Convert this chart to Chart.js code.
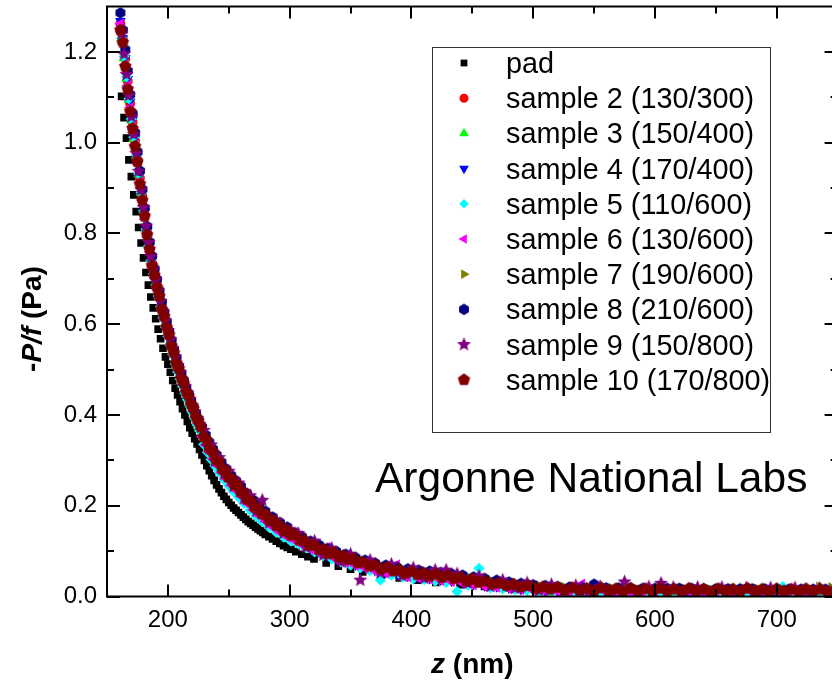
<!DOCTYPE html>
<html>
<head>
<meta charset="utf-8">
<title>-P/f vs z</title>
<script src="https://cdn.jsdelivr.net/npm/chart.js@4.4.1/dist/chart.umd.min.js"></script>
<style>
  html, body { margin: 0; padding: 0; background: #fff; overflow: hidden; }
  #wrap { width: 832px; height: 680px; overflow: hidden; }
</style>
</head>
<body>
<div id="wrap"><canvas id="plot" width="850" height="680"></canvas></div>
<script>
"use strict";

// ---- data (z in nm, -P/f in Pa) ----
const padZ = [162, 164, 166, 168, 170, 172, 174, 176, 178, 180, 182, 184, 186, 188, 190, 192, 194, 196, 198, 200,
  202, 204, 206, 208, 210, 212, 214, 216, 218, 220, 222, 224, 226, 228, 230, 232, 234, 236, 238, 240,
  242, 244, 246, 248, 250, 252, 254, 256, 258, 260, 262, 264, 266, 268, 270, 272, 274, 276, 278, 280,
  283, 286, 289, 292, 295, 298, 301, 305, 310, 315, 320, 330, 340, 350, 360, 375, 390, 405, 420, 440,
  460, 480, 500, 530, 560, 600, 650, 700, 745];
const padP = [1.102, 1.055, 1.010, 0.962, 0.925, 0.885, 0.848, 0.813, 0.779, 0.746, 0.714, 0.686, 0.660, 0.636, 0.612, 0.589, 0.568, 0.547, 0.528, 0.512,
  0.494, 0.476, 0.459, 0.444, 0.429, 0.414, 0.400, 0.386, 0.372, 0.360, 0.348, 0.336, 0.324, 0.312, 0.300, 0.288, 0.277, 0.266, 0.256, 0.246,
  0.237, 0.229, 0.221, 0.214, 0.207, 0.201, 0.195, 0.190, 0.185, 0.180, 0.175, 0.170, 0.165, 0.161, 0.157, 0.153, 0.149, 0.145, 0.141, 0.137,
  0.132, 0.127, 0.122, 0.117, 0.112, 0.108, 0.104, 0.099, 0.093, 0.088, 0.083, 0.074, 0.067, 0.060, 0.054, 0.047, 0.041, 0.036, 0.031, 0.026,
  0.022, 0.019, 0.016, 0.013, 0.011, 0.009, 0.007, 0.006, 0.005];

// z grids for samples 2-9 (even samples on zA, odd on zB)
const zA = [161, 163, 165, 167, 169, 171, 173, 175, 177, 179, 181, 183, 185, 187, 189, 191, 193, 195, 197, 199, 201, 203, 205, 207, 209, 211, 213, 215, 217, 219, 221, 223, 225,
  228, 231, 234, 237, 240, 244, 248, 252, 256, 260, 265, 270, 275, 280, 286, 292, 298,
  304, 310, 317, 324, 331, 338, 346, 354, 362, 370, 379, 388, 397, 406, 415, 424, 433, 442, 451, 460,
  470, 480, 490, 500, 510, 520, 530, 540, 550, 560, 570, 580, 590, 600, 610, 620, 630, 640, 650, 660, 670, 680, 690, 700, 710, 720, 730, 740];
const zB = [162, 164, 166, 168, 170, 172, 174, 176, 178, 180, 182, 184, 186, 188, 190, 192, 194, 196, 198, 200, 202, 204, 206, 208, 210, 212, 214, 216, 218, 220, 222, 224, 226,
  229.5, 232.5, 235.5, 238.5, 242, 246, 250, 254, 258, 262.5, 267.5, 272.5, 277.5, 283, 289, 295, 301,
  307, 313.5, 320.5, 327.5, 334.5, 342, 350, 358, 366, 374.5, 383.5, 392.5, 401.5, 410.5, 419.5, 428.5, 437.5, 446.5, 455.5, 465,
  475, 485, 495, 505, 515, 525, 535, 545, 555, 565, 575, 585, 595, 605, 615, 625, 635, 645, 655, 665, 675, 685, 695, 705, 715, 725, 735, 745];
// sample 10 was recorded on a finer grid
const z10 = [161, 163, 165, 167, 169, 171, 173, 175, 177, 179, 181, 183, 185, 187, 189, 191, 193, 195, 197, 199, 201, 203, 205, 207, 209, 211, 213, 215, 217, 219, 221, 223, 225,
  227, 229.5, 232, 234.5, 237, 239.5, 242, 244.5, 247, 249.5, 252, 254.5, 257, 259.5, 262, 265, 268, 271, 274, 277, 280, 283, 286, 289, 292, 295, 298, 301,
  304, 308, 312, 316, 320, 324, 328, 332, 336, 340, 344, 348, 352, 356, 360, 365, 370, 375, 380, 385, 390, 395, 400, 405, 410, 415, 420, 425, 430, 435, 440, 445, 450, 455, 460, 466,
  472, 478, 484, 490, 496, 502, 508, 514, 520, 526, 532, 538, 544, 550, 556, 562, 568, 574, 580, 586, 592, 598, 604, 610, 616, 622, 628, 634, 640, 646,
  652, 658, 664, 670, 676, 682, 688, 694, 700, 706, 712, 718, 724, 730, 736, 742];

const s2P = [1.262, 1.228, 1.185, 1.136, 1.086, 1.045, 1.004, 0.963, 0.922, 0.882, 0.841, 0.801, 0.767, 0.736, 0.709, 0.687, 0.662, 0.638, 0.617, 0.597, 0.576, 0.556, 0.536, 0.518, 0.501, 0.485, 0.469, 0.455, 0.441, 0.427, 0.413, 0.399, 0.386,
  0.368, 0.350, 0.334, 0.319, 0.306, 0.290, 0.275, 0.261, 0.249, 0.237, 0.221, 0.207, 0.194, 0.182, 0.169, 0.157, 0.147,
  0.138, 0.129, 0.119, 0.111, 0.103, 0.097, 0.090, 0.083, 0.077, 0.071, 0.066, 0.062, 0.058, 0.055, 0.053, 0.050, 0.047, 0.044, 0.040, 0.037,
  0.032, 0.029, 0.026, 0.024, 0.022, 0.021, 0.020, 0.019, 0.019, 0.018, 0.018, 0.018, 0.017, 0.017, 0.017, 0.017, 0.017, 0.016, 0.016, 0.016, 0.016, 0.016, 0.016, 0.015, 0.015, 0.015, 0.015, 0.015];
const s3P = [1.228, 1.186, 1.141, 1.094, 1.049, 1.009, 0.970, 0.930, 0.890, 0.851, 0.811, 0.774, 0.744, 0.716, 0.692, 0.669, 0.645, 0.623, 0.603, 0.583, 0.563, 0.543, 0.524, 0.506, 0.490, 0.474, 0.459, 0.445, 0.431, 0.417, 0.403, 0.389, 0.376,
  0.352, 0.335, 0.319, 0.305, 0.291, 0.275, 0.261, 0.248, 0.236, 0.222, 0.207, 0.193, 0.181, 0.168, 0.156, 0.145, 0.135,
  0.125, 0.116, 0.107, 0.099, 0.092, 0.085, 0.078, 0.072, 0.066, 0.060, 0.056, 0.052, 0.048, 0.046, 0.043, 0.040, 0.037, 0.034, 0.030, 0.027,
  0.026, 0.024, 0.021, 0.019, 0.018, 0.017, 0.016, 0.015, 0.014, 0.014, 0.014, 0.013, 0.013, 0.016, 0.013, 0.013, 0.012, 0.012, 0.012, 0.017, 0.012, 0.012, 0.011, 0.011, 0.011, 0.011, 0.011, 0.011];
const s4P = [1.268, 1.230, 1.186, 1.140, 1.090, 1.050, 1.009, 0.969, 0.929, 0.889, 0.848, 0.808, 0.774, 0.743, 0.716, 0.693, 0.668, 0.644, 0.622, 0.601, 0.580, 0.560, 0.539, 0.521, 0.503, 0.487, 0.471, 0.456, 0.442, 0.428, 0.413, 0.399, 0.386,
  0.355, 0.337, 0.321, 0.306, 0.293, 0.277, 0.262, 0.248, 0.236, 0.224, 0.208, 0.194, 0.181, 0.169, 0.156, 0.144, 0.134,
  0.125, 0.116, 0.106, 0.098, 0.090, 0.084, 0.077, 0.070, 0.064, 0.058, 0.053, 0.049, 0.045, 0.042, 0.040, 0.037, 0.034, 0.031, 0.027, 0.024,
  0.022, 0.019, 0.016, 0.014, 0.012, 0.011, 0.010, 0.009, 0.009, 0.008, 0.008, 0.008, 0.008, 0.008, 0.008, 0.008, 0.008, 0.007, 0.007, 0.007, 0.007, 0.007, 0.007, 0.007, 0.007, 0.007, 0.007, 0.007];
const s5P = [1.230, 1.190, 1.145, 1.097, 1.052, 1.012, 0.972, 0.931, 0.890, 0.850, 0.809, 0.772, 0.740, 0.711, 0.686, 0.662, 0.638, 0.614, 0.593, 0.573, 0.553, 0.533, 0.513, 0.495, 0.479, 0.463, 0.448, 0.434, 0.420, 0.406, 0.392, 0.378, 0.365,
  0.335, 0.318, 0.302, 0.288, 0.274, 0.258, 0.244, 0.231, 0.219, 0.205, 0.190, 0.177, 0.165, 0.153, 0.141, 0.131, 0.122,
  0.116, 0.107, 0.098, 0.090, 0.083, 0.076, 0.069, 0.063, 0.057, 0.036, 0.047, 0.043, 0.039, 0.037, 0.034, 0.031, 0.011, 0.025, 0.062, 0.019,
  0.017, 0.015, 0.013, 0.011, 0.010, 0.009, 0.009, 0.008, 0.008, 0.008, 0.008, 0.008, 0.008, 0.008, 0.008, 0.008, 0.008, 0.008, 0.008, 0.008, 0.008, 0.008, 0.008, 0.022, 0.008, 0.008, 0.008, 0.008];
const s6P = [1.262, 1.218, 1.172, 1.126, 1.077, 1.036, 0.994, 0.953, 0.912, 0.872, 0.831, 0.792, 0.759, 0.729, 0.703, 0.681, 0.657, 0.633, 0.612, 0.592, 0.572, 0.552, 0.532, 0.514, 0.497, 0.481, 0.466, 0.452, 0.438, 0.423, 0.409, 0.395, 0.382,
  0.352, 0.334, 0.318, 0.303, 0.290, 0.274, 0.259, 0.245, 0.233, 0.221, 0.205, 0.191, 0.178, 0.166, 0.153, 0.141, 0.131,
  0.123, 0.114, 0.104, 0.096, 0.108, 0.082, 0.075, 0.068, 0.062, 0.056, 0.051, 0.070, 0.043, 0.040, 0.038, 0.035, 0.032, 0.029, 0.025, 0.022,
  0.020, 0.017, 0.015, 0.013, 0.012, 0.011, 0.010, 0.028, 0.009, 0.009, 0.009, 0.009, 0.009, 0.009, 0.009, 0.009, 0.009, 0.009, 0.009, 0.009, 0.009, 0.009, 0.009, 0.009, 0.009, 0.009, 0.009, 0.009];
const s7P = [1.243, 1.200, 1.156, 1.108, 1.062, 1.021, 0.981, 0.941, 0.901, 0.861, 0.821, 0.784, 0.752, 0.724, 0.700, 0.677, 0.653, 0.630, 0.609, 0.589, 0.569, 0.549, 0.529, 0.511, 0.495, 0.479, 0.464, 0.449, 0.435, 0.421, 0.407, 0.393, 0.380,
  0.361, 0.344, 0.328, 0.314, 0.300, 0.284, 0.270, 0.257, 0.245, 0.231, 0.216, 0.202, 0.190, 0.177, 0.165, 0.154, 0.144,
  0.134, 0.125, 0.116, 0.108, 0.101, 0.094, 0.087, 0.081, 0.075, 0.069, 0.065, 0.061, 0.057, 0.055, 0.052, 0.049, 0.046, 0.043, 0.039, 0.036,
  0.033, 0.030, 0.027, 0.024, 0.022, 0.021, 0.020, 0.019, 0.018, 0.018, 0.018, 0.017, 0.017, 0.017, 0.017, 0.017, 0.016, 0.016, 0.016, 0.016, 0.016, 0.016, 0.015, 0.015, 0.015, 0.015, 0.021, 0.020];
const s8P = [1.286, 1.248, 1.205, 1.158, 1.106, 1.064, 1.022, 0.980, 0.938, 0.897, 0.856, 0.815, 0.781, 0.750, 0.722, 0.699, 0.674, 0.649, 0.627, 0.606, 0.585, 0.565, 0.544, 0.526, 0.508, 0.492, 0.476, 0.461, 0.447, 0.432, 0.418, 0.404, 0.391,
  0.374, 0.356, 0.340, 0.325, 0.312, 0.296, 0.281, 0.267, 0.255, 0.243, 0.227, 0.213, 0.200, 0.188, 0.175, 0.163, 0.153,
  0.141, 0.132, 0.122, 0.114, 0.106, 0.100, 0.093, 0.086, 0.080, 0.074, 0.069, 0.065, 0.061, 0.058, 0.056, 0.053, 0.050, 0.047, 0.043, 0.040,
  0.036, 0.032, 0.029, 0.026, 0.024, 0.022, 0.021, 0.020, 0.027, 0.019, 0.019, 0.019, 0.018, 0.018, 0.018, 0.018, 0.018, 0.017, 0.017, 0.017, 0.017, 0.017, 0.017, 0.016, 0.016, 0.016, 0.016, 0.016];
const s9P = [1.240, 1.195, 1.150, 1.104, 1.057, 1.018, 0.976, 0.937, 0.896, 0.857, 0.816, 0.780, 0.749, 0.720, 0.697, 0.673, 0.650, 0.626, 0.607, 0.586, 0.566, 0.546, 0.528, 0.509, 0.494, 0.477, 0.463, 0.448, 0.435, 0.420, 0.407, 0.392, 0.380,
  0.366, 0.331, 0.334, 0.298, 0.306, 0.270, 0.276, 0.243, 0.250, 0.216, 0.222, 0.188, 0.212, 0.162, 0.168, 0.139, 0.146,
  0.139, 0.108, 0.122, 0.091, 0.106, 0.076, 0.093, 0.036, 0.080, 0.052, 0.071, 0.045, 0.063, 0.040, 0.058, 0.058, 0.050, 0.029, 0.045, 0.022,
  0.036, 0.018, 0.030, 0.013, 0.026, 0.011, 0.024, 0.010, 0.022, 0.010, 0.032, 0.009, 0.021, 0.029, 0.020, 0.009, 0.020, 0.009, 0.020, 0.009, 0.019, 0.009, 0.019, 0.009, 0.019, 0.009, 0.018, 0.009];
const s10P = [1.248, 1.221, 1.168, 1.118, 1.069, 1.031, 0.992, 0.958, 0.909, 0.873, 0.838, 0.797, 0.765, 0.729, 0.708, 0.681, 0.662, 0.633, 0.617, 0.593, 0.577, 0.552, 0.537, 0.514, 0.502, 0.481, 0.470, 0.451, 0.442, 0.424, 0.414, 0.396, 0.387,
  0.373, 0.352, 0.344, 0.325, 0.318, 0.301, 0.297, 0.281, 0.278, 0.263, 0.260, 0.246, 0.245, 0.231, 0.230, 0.214, 0.211, 0.197, 0.195, 0.182, 0.181, 0.168, 0.168, 0.156, 0.156, 0.145, 0.146, 0.135,
  0.136, 0.124, 0.124, 0.113, 0.113, 0.103, 0.104, 0.094, 0.097, 0.087, 0.090, 0.081, 0.083, 0.074, 0.076, 0.067, 0.069, 0.061, 0.064, 0.056, 0.059, 0.051, 0.055, 0.048, 0.052, 0.045, 0.049, 0.042, 0.046, 0.039, 0.042, 0.034, 0.038, 0.031, 0.034, 0.028,
  0.029, 0.024, 0.027, 0.021, 0.024, 0.018, 0.021, 0.016, 0.020, 0.014, 0.019, 0.013, 0.018, 0.012, 0.019, 0.013, 0.017, 0.011, 0.018, 0.012, 0.017, 0.011, 0.018, 0.012, 0.016, 0.011, 0.018, 0.012, 0.016, 0.010,
  0.017, 0.012, 0.016, 0.011, 0.018, 0.012, 0.016, 0.010, 0.017, 0.012, 0.016, 0.011, 0.017, 0.012, 0.016, 0.011];

const seriesLabels = ["pad", "sample 2 (130/300)", "sample 3 (150/400)", "sample 4 (170/400)", "sample 5 (110/600)",
  "sample 6 (130/600)", "sample 7 (190/600)", "sample 8 (210/600)", "sample 9 (150/800)", "sample 10 (170/800)"];

// axis ticks
const xMajor = [200, 300, 400, 500, 600, 700];
const xMinor = [250, 350, 450, 550, 650, 750];
const yMajor = [0, 0.2, 0.4, 0.6, 0.8, 1.0, 1.2];
const yMinor = [0.1, 0.3, 0.5, 0.7, 0.9, 1.1];

const FONT = '"Liberation Sans", Arial, Helvetica, sans-serif';

// filled polygon markers that Chart.js does not have
function makeMarker(kind, r, color) {
  const c = document.createElement("canvas");
  const s = Math.ceil(r * 2 + 2);
  c.width = s;
  c.height = s;
  const g = c.getContext("2d");
  const n = kind === "star" ? 10 : kind === "pent" ? 5 : 6;
  g.fillStyle = color;
  g.beginPath();
  for (let i = 0; i < n; i++) {
    const a = -Math.PI / 2 + (i * 2 * Math.PI) / n;
    const rr = kind === "star" && i % 2 ? r * 0.45 : r;
    g.lineTo(s / 2 + rr * Math.cos(a), s / 2 + rr * Math.sin(a));
  }
  g.closePath();
  g.fill();
  return c;
}

const series = [
  { z: padZ, p: padP, color: "#000000", style: "rect", radius: 5.4 },
  { z: zA, p: s2P, color: "#ff0000", style: "circle", radius: 5 },
  { z: zB, p: s3P, color: "#00ff00", style: "triangle", radius: 6.2, rotation: 0 },
  { z: zA, p: s4P, color: "#0000ff", style: "triangle", radius: 6.2, rotation: 180 },
  { z: zB, p: s5P, color: "#00ffff", style: "rectRot", radius: 5.6 },
  { z: zA, p: s6P, color: "#ff00ff", style: "triangle", radius: 6.2, rotation: 270 },
  { z: zB, p: s7P, color: "#808000", style: "triangle", radius: 6.2, rotation: 90 },
  { z: zA, p: s8P, color: "#000080", style: makeMarker("hex", 5.7, "#000080"), radius: 5 },
  { z: zB, p: s9P, color: "#800080", style: makeMarker("star", 7.4, "#800080"), radius: 6 },
  { z: z10, p: s10P, color: "#800000", style: makeMarker("pent", 6.5, "#800000"), radius: 5.5 },
];

// axes frame, ticks, titles, legend and note
const framePlugin = {
  id: "frame",
  afterDraw(chart) {
    const ctx = chart.ctx;
    const a = chart.chartArea;
    const xs = chart.scales.x;
    const ys = chart.scales.y;
    ctx.save();
    ctx.strokeStyle = "#000";
    ctx.lineWidth = 2;
    ctx.strokeRect(a.left, a.top, a.right - a.left, a.bottom - a.top);

    ctx.beginPath();
    const xt = (list, len) => list.forEach((v) => {
      const px = Math.round(xs.getPixelForValue(v));
      ctx.moveTo(px, a.bottom); ctx.lineTo(px, a.bottom - len);
      ctx.moveTo(px, a.top); ctx.lineTo(px, a.top + len);
    });
    const yt = (list, len) => list.forEach((v) => {
      const py = Math.round(ys.getPixelForValue(v));
      ctx.moveTo(a.left, py); ctx.lineTo(a.left + len, py);
      ctx.moveTo(a.right, py); ctx.lineTo(a.right - len, py);
    });
    xt(xMajor, 12); xt(xMinor, 7);
    yt(yMajor, 13); yt(yMinor, 7);
    ctx.stroke();

    // axis titles (mixed bold / bold italic)
    const drawParts = (parts, cx, baseline) => {
      let w = 0;
      parts.forEach((p) => { ctx.font = p[0] + " 28px " + FONT; w += ctx.measureText(p[1]).width; });
      let x = cx - w / 2;
      parts.forEach((p) => {
        ctx.font = p[0] + " 28px " + FONT;
        ctx.fillText(p[1], x, baseline);
        x += ctx.measureText(p[1]).width;
      });
    };
    ctx.fillStyle = "#000";
    ctx.textAlign = "left";
    ctx.textBaseline = "alphabetic";
    drawParts([["italic bold", "z"], ["bold", " (nm)"]], (a.left + a.right) / 2, 673);
    ctx.save();
    ctx.translate(41, 319);
    ctx.rotate(-Math.PI / 2);
    drawParts([["bold", "-"], ["italic bold", "P/f"], ["bold", " (Pa)"]], 0, 0);
    ctx.restore();

    // legend
    ctx.lineWidth = 1;
    ctx.strokeStyle = "#333";
    ctx.strokeRect(432.5, 47.5, 338, 385);
    const legendSize = [4.8, 4.5, 5.6, 5.6, 4.8, 5.6, 5.6, 5, 6, 5.5];
    series.forEach((s, i) => {
      const y = 63 + i * 35.2;
      ctx.fillStyle = s.color;
      Chart.helpers.drawPoint(ctx, { pointStyle: s.style, radius: legendSize[i], rotation: s.rotation || 0, borderWidth: 0 }, 464, y);
      ctx.fillStyle = "#000";
      ctx.font = "28.8px " + FONT;
      ctx.fillText(seriesLabels[i], 506, y + 10);
    });

    ctx.font = "42.5px " + FONT;
    ctx.fillText("Argonne National Labs", 375, 492);
    ctx.restore();
  },
};

new Chart(document.getElementById("plot"), {
  type: "scatter",
  data: {
    datasets: series.map((s, i) => ({
      label: seriesLabels[i],
      data: s.z.map((z, k) => ({ x: z, y: s.p[k] })),
      pointStyle: s.style,
      pointRadius: s.radius,
      pointRotation: s.rotation || 0,
      backgroundColor: s.color,
      borderColor: s.color,
      pointBorderWidth: 0,
      showLine: false,
      order: series.length - i,
    })),
  },
  options: {
    responsive: false,
    animation: false,
    devicePixelRatio: 1,
    events: [],
    layout: { padding: { top: 6.5, right: 12.4, left: 0, bottom: 0 } },
    plugins: { legend: { display: false }, tooltip: { enabled: false } },
    scales: {
      x: {
        type: "linear",
        min: 150,
        max: 750,
        grid: { display: false, drawTicks: false },
        border: { display: false },
        afterBuildTicks: (s) => { s.ticks = xMajor.map((v) => ({ value: v })); },
        afterFit: (s) => { s.height = 83.5; s.paddingLeft = 0; s.paddingRight = 0; },
        ticks: { color: "#000", font: { family: FONT, size: 24 }, padding: 9, maxRotation: 0 },
      },
      y: {
        min: 0,
        max: 1.3,
        grid: { display: false, drawTicks: false },
        border: { display: false },
        afterBuildTicks: (s) => { s.ticks = yMajor.map((v) => ({ value: v })); },
        afterFit: (s) => { s.width = 107; s.paddingTop = 0; s.paddingBottom = 0; },
        ticks: {
          color: "#000",
          font: { family: FONT, size: 24 },
          padding: 10,
          callback: (v) => Number(v).toFixed(1),
        },
      },
    },
  },
  plugins: [framePlugin],
});
</script>
</body>
</html>
